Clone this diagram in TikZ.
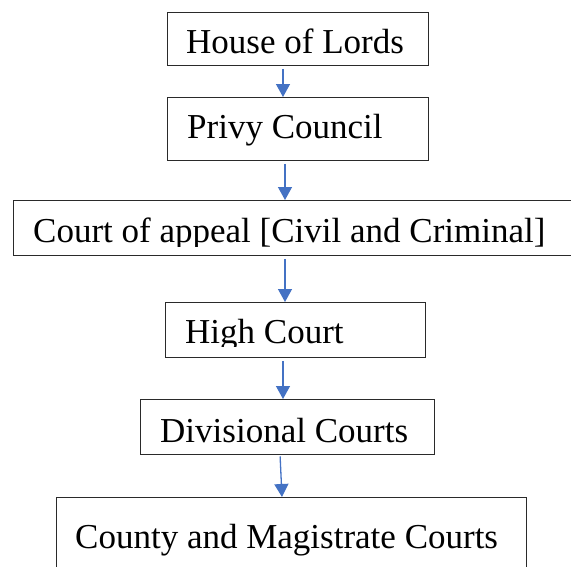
\documentclass[tikz,border=0pt]{standalone}
\usepackage{fontspec}
\setmainfont{Liberation Serif}
\usetikzlibrary{arrows.meta}
\definecolor{arrowblue}{HTML}{4472C4}
\definecolor{boxline}{HTML}{2A2A2A}
\begin{document}
\begin{tikzpicture}[x=1pt,y=-1pt,
  box/.style={draw=boxline, line width=1.3pt, inner sep=0pt, anchor=north west},
  lab/.style={anchor=base west, inner sep=0pt, font=\fontsize{35}{42}\selectfont},
  link/.style={draw=arrowblue, line width=1.3pt, shorten <=2.5pt, -{Triangle[width=14pt,length=13pt]}}]
\useasboundingbox (0,0) rectangle (571,566);
% boxes
\node[box, minimum width=261pt, minimum height=53pt] (hol) at (167,12) {};
\node[box, minimum width=261pt, minimum height=63pt] (pc) at (167,97) {};
\node[box, minimum width=590pt, minimum height=55pt] (ca) at (13,200) {};
\node[box, minimum width=260pt, minimum height=55pt] (hc) at (165,302) {};
\node[box, minimum width=294pt, minimum height=55pt] (dc) at (140,399) {};
\node[box, minimum width=470pt, minimum height=100pt] (cm) at (56,497) {};
% texts
\node[lab] (holt) at (186,53) {House of Lords};
\node[lab] (pct) at (187,138) {Privy Council};
\begin{scope}
  \clip (13,200) rectangle (571,246);
  \node[lab] (cat) at (33,242) {Court of appeal [Civil and Criminal]};
\end{scope}
\begin{scope}
  \clip (165,302) rectangle (425,346);
  \node[lab] (hct) at (185,343) {High Court};
\end{scope}
\node[lab] (dct) at (160,442) {Divisional Courts};
\node[lab] (cmt) at (75,548) {County and Magistrate Courts};
% connectors
\coordinate (a1) at (283,0);
\coordinate (a2) at (285,0);
\coordinate (a4) at (283,0);
\coordinate (a5s) at (280,454);
\coordinate (a5e) at (282,497);
\draw[link] (hol.south -| a1) -- (pc.north -| a1);
\draw[link] (pc.south -| a2) -- (ca.north -| a2);
\draw[link] (ca.south -| a2) -- (hc.north -| a2);
\draw[link] (hc.south -| a4) -- (dc.north -| a4);
\draw[link] (a5s) -- (a5e);
\end{tikzpicture}
\end{document}
